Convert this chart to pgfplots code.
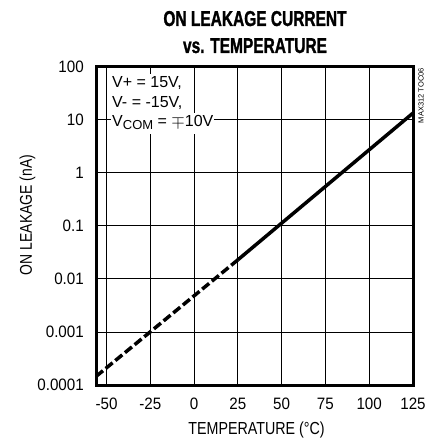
\documentclass[border=0pt]{standalone}
\usepackage{fontspec}
\setmainfont{Liberation Sans}[FakeStretch=0.82]
\newfontfamily\titlefont{Liberation Sans}[FakeStretch=0.72, BoldFeatures={FakeBold=1.2}]
\newfontfamily\tickfont{Liberation Sans}[FakeStretch=0.92]
\newfontfamily\notefont{Liberation Sans}
\usepackage{pgfplots}
\pgfplotsset{compat=1.18}
\begin{document}
\begin{tikzpicture}
\path[use as bounding box] (-96pt,-58pt) rectangle (333pt,385pt);
\begin{axis}[
  at={(0pt,0pt)}, anchor=south west,
  scale only axis, width=317pt, height=318pt,
  xmin=-56, xmax=125, ymode=log, ymin=1e-4, ymax=100,
  xtick={-50,-25,0,25,50,75,100,125},
  xticklabels={-50,-25,0,25,50,75,100,125},
  ytick={1e-4,1e-3,1e-2,1e-1,1,10,100},
  yticklabels={0.0001,0.001,0.01,0.1,1,10,100},
  yminorticks=false,
  major tick length=0pt,
  grid=major, major grid style={black, line width=1pt},
  axis line style={line width=3pt},
  ticklabel style={font=\tickfont\fontsize{16.5}{18}\selectfont},
  xticklabel style={inner sep=0pt, yshift=-13pt},
  yticklabel style={inner sep=0pt, xshift=-12pt},
]
\addplot[black, line width=3.5pt, dash pattern=on 9pt off 3.5pt] coordinates {(-56,1.45e-4) (25,0.023)};
\addplot[black, line width=3.5pt] coordinates {(25,0.023) (125,13.5)};
\end{axis}
\begin{scope}[every node/.style={fill=white, inner sep=1pt, text height=13pt, text depth=6pt, anchor=base west, font=\notefont\fontsize{16}{18}\selectfont}]
\node at (15pt,297pt) {V+ = 15V,};
\node at (15pt,277pt) {V- = -15V,};
\node at (15pt,258pt) {V\raisebox{-3pt}{\fontsize{13}{13}\selectfont COM} = $\mp$10V};
\end{scope}
\node[anchor=base, font=\titlefont\bfseries\fontsize{21.5}{24}\selectfont] at (159pt,359pt) {ON LEAKAGE CURRENT};
\node[anchor=base, font=\titlefont\bfseries\fontsize{21.5}{24}\selectfont] at (159pt,332pt) {vs. TEMPERATURE};
\node[rotate=90, anchor=base, font=\fontsize{17}{18}\selectfont] at (-64pt,170pt) {ON LEAKAGE (nA)};
\node[anchor=base, font=\fontsize{17.4}{18}\selectfont] at (160.5pt,-49pt) {TEMPERATURE (\textdegree C)};
\node[rotate=90, anchor=east, inner sep=0pt, font=\notefont\fontsize{7.5}{8}\selectfont] at (325pt,317pt) {MAX312 TOC06};
\end{tikzpicture}
\end{document}
